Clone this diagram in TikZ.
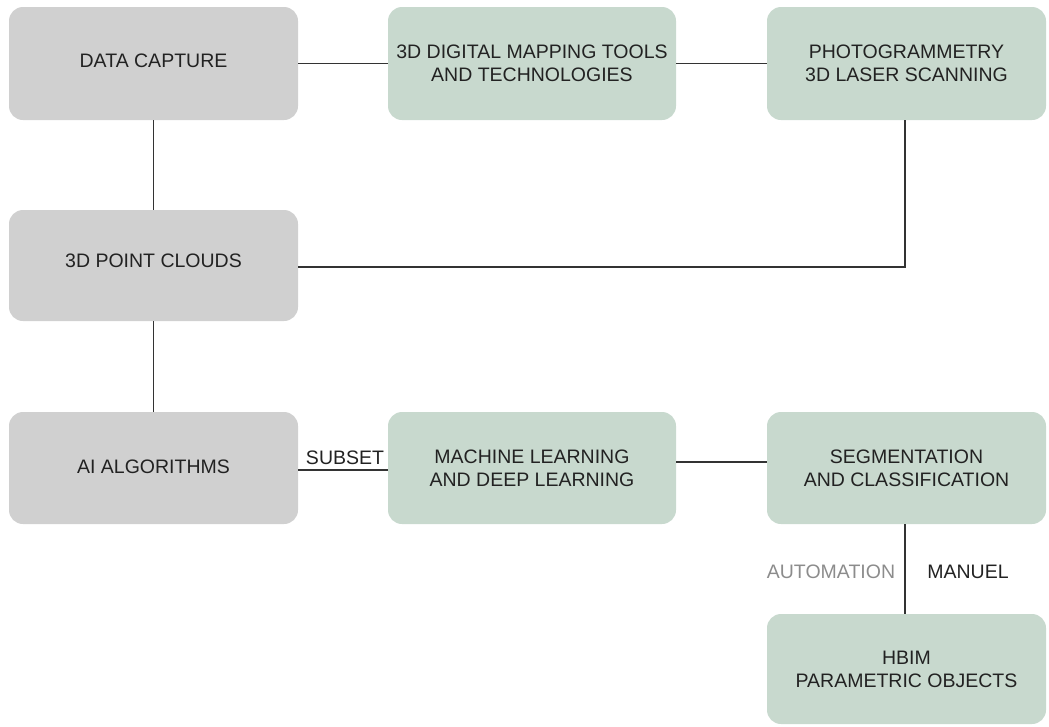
\documentclass[tikz,border=0pt]{standalone}
\usepackage{fontspec}
\setmainfont{Liberation Sans}
\definecolor{boxgray}{HTML}{D0D0D0}
\definecolor{boxgreen}{HTML}{C8D9CE}
\definecolor{txt}{HTML}{222222}
\definecolor{lin}{HTML}{333333}
\begin{document}
\begin{tikzpicture}[x=1pt,y=-1pt,
  base/.style={rounded corners=14pt, inner sep=0pt, align=center, text=txt, font=\fontsize{19.5}{23}\selectfont},
  graybox/.style={base, fill=boxgray, minimum width=289pt, minimum height=113pt},
  greenbox/.style={base, fill=boxgreen, minimum height=113pt},
  conn/.style={draw=lin, line width=1.3pt},
  lbl/.style={font=\fontsize{19.5}{22}\selectfont, inner sep=0pt}]
\useasboundingbox (0,0) rectangle (1049,726);
\node[graybox] (dc) at (153.5,63.5) {\raisebox{6pt}{DATA CAPTURE}};
\node[greenbox, minimum width=288pt] (map) at (532,63.5) {3D DIGITAL MAPPING TOOLS\\AND TECHNOLOGIES};
\node[greenbox, minimum width=279pt] (photo) at (906.5,63.5) {PHOTOGRAMMETRY\\3D LASER SCANNING};
\node[graybox, minimum height=111pt] (pc) at (153.5,265.5) {\raisebox{10pt}{3D POINT CLOUDS}};
\node[graybox, minimum height=112pt] (ai) at (153.5,468) {\raisebox{2pt}{AI ALGORITHMS}};
\node[greenbox, minimum width=288pt, minimum height=112pt] (ml) at (532,468) {MACHINE LEARNING\\AND DEEP LEARNING};
\node[greenbox, minimum width=279pt, minimum height=112pt] (seg) at (906.5,468) {SEGMENTATION\\AND CLASSIFICATION};
\node[greenbox, minimum width=279pt, minimum height=110pt] (hbim) at (906.5,669) {HBIM\\PARAMETRIC OBJECTS};
\coordinate (corner) at (905,267);
\draw[conn] (dc.east) -- (map.west);
\draw[conn] (map.east) -- (photo.west);
\draw[conn] (dc.south) -- (pc.north);
\draw[conn] (pc.south) -- (ai.north);
\draw[conn] (photo.south -| corner) -- (corner) -- (corner -| pc.east);
\draw[conn] (ai.east |- 0,470) -- (ml.west |- 0,470);
\draw[conn] (ml.east |- 0,462) -- (seg.west |- 0,462);
\draw[conn] (seg.south -| corner) -- (hbim.north -| corner);
\node[lbl, text=txt] (subset) at (345,458) {SUBSET};
\node[lbl, text=black!45] (auto) at (831,572) {AUTOMATION};
\node[lbl, text=txt] (manuel) at (968,572) {MANUEL};
\end{tikzpicture}
\end{document}
